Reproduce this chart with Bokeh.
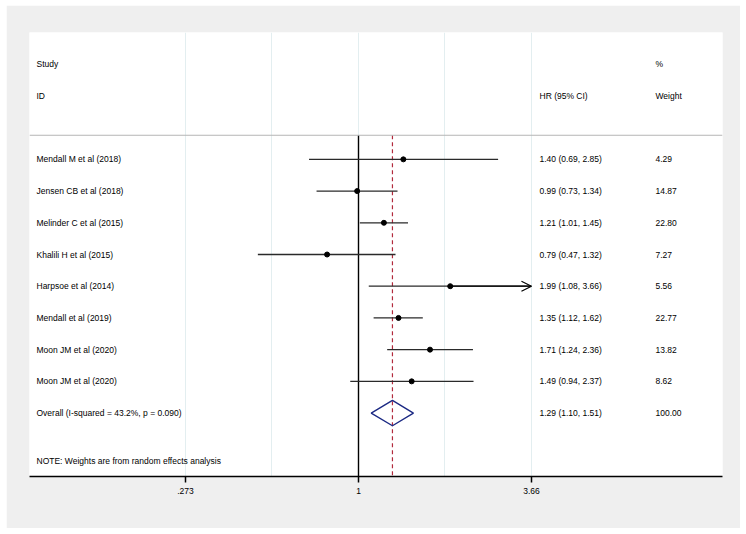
import math
from bokeh.plotting import figure
from bokeh.models import Range1d, FixedTicker, Span, Arrow, OpenHead, ColumnDataSource
from bokeh.core.properties import value
from bokeh.embed import file_html
from bokeh.resources import INLINE

# ---- data ----
studies = ["Mendall M et al (2018)", "Jensen CB et al (2018)", "Melinder C et al (2015)",
           "Khalili H et al (2015)", "Harpsoe et al (2014)", "Mendall et al (2019)",
           "Moon JM et al (2020)", "Moon JM et al (2020)"]
hr = [1.40, 0.99, 1.21, 0.79, 1.99, 1.35, 1.71, 1.49]
lo = [0.69, 0.73, 1.01, 0.47, 1.08, 1.12, 1.24, 0.94]
hi = [2.85, 1.34, 1.45, 1.32, 3.66, 1.62, 2.36, 2.37]
weights = ["4.29", "14.87", "22.80", "7.27", "5.56", "22.77", "13.82", "8.62"]
overall_label = "Overall  (I-squared = 43.2%, p = 0.090)"
overall_hr, overall_lo, overall_hi = 1.29, 1.10, 1.51
overall_weight = "100.00"
note = "NOTE: Weights are from random effects analysis"
tick_values = [0.273, 1.0, 3.66]
tick_labels = [".273", "1", "3.66"]
axis_max = 3.66

FONT = "Liberation Sans"
FS = "8.5px"

rows = list(range(len(studies)))
overall_row = len(studies)
note_row = overall_row + 1.5
hdr_line_y = -0.76

# x geometry (log scale); 133.3 px per ln unit, value 1 at frame px 329
def px_to_x(px):
    return math.exp((px - 329) / 133.3)

x_left = px_to_x(0)
x_right = px_to_x(693)

p = figure(width=734, height=523, x_axis_type="log",
           x_range=Range1d(x_left, x_right), y_range=Range1d(10, -4),
           output_backend="svg", toolbar_location=None,
           min_border_left=23, min_border_right=18, min_border_top=27, min_border_bottom=52)
p.margin = (5, 0, 0, 6)
p.background_fill_color = "white"
p.border_fill_color = "#efefef"
p.outline_line_color = None

# grid
grid_ticks = [tick_values[0], math.sqrt(tick_values[0]), 1.0, math.sqrt(tick_values[2]), tick_values[2]]
p.xgrid.ticker = FixedTicker(ticks=grid_ticks)
p.xgrid.grid_line_color = "#e3eef0"
p.xgrid.grid_line_width = 1
p.ygrid.grid_line_color = None

# axes
p.yaxis.visible = False
p.xaxis.ticker = FixedTicker(ticks=tick_values)
p.xaxis.major_label_overrides = {v: l for v, l in zip(tick_values, tick_labels)}
p.xaxis.axis_line_color = "black"
p.xaxis.axis_line_width = 1.5
p.xaxis.major_tick_line_color = "black"
p.xaxis.major_tick_line_width = 1.5
p.xaxis.major_tick_in = 0
p.xaxis.major_tick_out = 6
p.xaxis.minor_tick_line_color = None
p.xaxis.major_label_standoff = 5
p.xaxis.major_label_text_font = FONT
p.xaxis.major_label_text_font_size = FS
p.xaxis.major_label_text_color = "black"

# header separator
p.add_layout(Span(location=hdr_line_y, dimension="width", line_color="#b5b5b5", line_width=1))

# no-effect line
p.segment(x0=[1.0], y0=[hdr_line_y], x1=[1.0], y1=[10], line_color="black", line_width=1.4)
# overall dashed line
p.segment(x0=[overall_hr], y0=[hdr_line_y], x1=[overall_hr], y1=[10],
          line_color="#b22a3c", line_width=1.2, line_dash="4 3")

# CIs
src = ColumnDataSource(dict(y=rows, hr=hr, lo=lo, hi=[min(h, axis_max) for h in hi]))
p.segment(x0="lo", y0="y", x1="hi", y1="y", source=src, line_color="#2a2a2a", line_width=1.3)
p.scatter(x="hr", y="y", source=src, size=5, color="black")

# arrows for clipped CIs
for i, h in enumerate(hi):
    if h >= axis_max:
        p.add_layout(Arrow(end=OpenHead(size=10, line_width=1.2, line_color="black"),
                           x_start=hr[i], y_start=rows[i], x_end=axis_max, y_end=rows[i],
                           line_color="black", line_width=1.3))

# overall diamond
p.patch(x=[overall_lo, overall_hr, overall_hi, overall_hr],
        y=[overall_row, overall_row - 0.4, overall_row, overall_row + 0.4],
        fill_color=None, line_color="#1c2a84", line_width=1.4)

# text columns
x_study = px_to_x(7)
x_hr = px_to_x(510)
x_w = px_to_x(626)

ci_text = ["%.2f (%.2f, %.2f)" % (a, b, c) for a, b, c in zip(hr, lo, hi)]
txt_kw = dict(text_font=value(FONT), text_font_size=FS, text_baseline="middle",
              text_align="left", text_color="black")

p.text(x=[x_study] * 2, y=[-3, -2], text=["Study", "ID"], **txt_kw)
p.text(x=[x_w] * 2, y=[-3, -2], text=["%", "Weight"], **txt_kw)
p.text(x=[x_hr], y=[-2], text=["HR (95% CI)"], **txt_kw)

p.text(x=[x_study] * len(studies), y=rows, text=studies, **txt_kw)
p.text(x=[x_hr] * len(studies), y=rows, text=ci_text, **txt_kw)
p.text(x=[x_w] * len(studies), y=rows, text=weights, **txt_kw)

p.text(x=[x_study], y=[overall_row], text=[overall_label], **txt_kw)
p.text(x=[x_hr], y=[overall_row],
       text=["%.2f (%.2f, %.2f)" % (overall_hr, overall_lo, overall_hi)], **txt_kw)
p.text(x=[x_w], y=[overall_row], text=[overall_weight], **txt_kw)
p.text(x=[x_study], y=[note_row], text=[note], **txt_kw)

open("out.html", "w").write(file_html(p, INLINE))
